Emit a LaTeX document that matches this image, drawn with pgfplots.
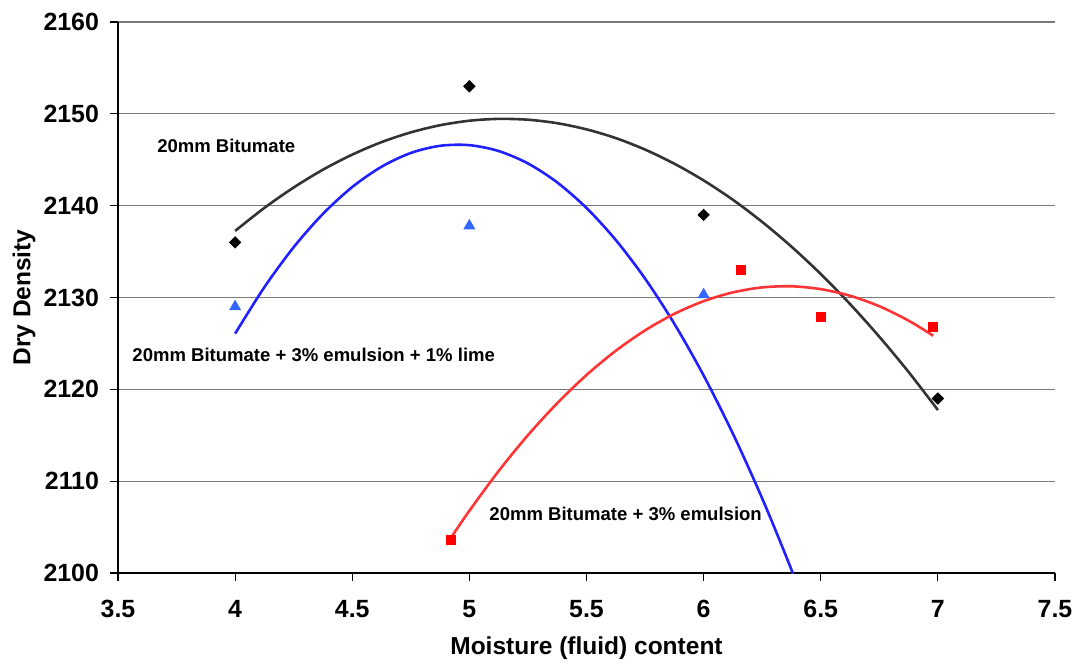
\documentclass[border=0pt]{standalone}
\usepackage{fontspec}
\setmainfont{Liberation Sans}
\usepackage{pgfplots}
\pgfplotsset{compat=1.18}
\definecolor{gridgray}{HTML}{7A7A7A}
\definecolor{fitblack}{HTML}{333333}
\definecolor{fitblue}{HTML}{2020FF}
\definecolor{fitred}{HTML}{FF3535}
\definecolor{triblue}{HTML}{3366FF}
\definecolor{sqred}{HTML}{FF0000}

\begin{document}
\begin{tikzpicture}
\useasboundingbox (-59bp,-47.5bp) rectangle (480bp,286.5bp);
\begin{axis}[
  scale only axis,
  width=468.5bp, height=275.5bp,
  xmin=3.5, xmax=7.5, ymin=2100, ymax=2160,
  xtick={3.5,4,4.5,5,5.5,6,6.5,7,7.5},
  ytick={2100,2110,2120,2130,2140,2150,2160},
  axis x line*=bottom, axis y line*=left,
  axis line style={-, black, line width=0.8pt},
  ymajorgrids,
  grid style={gridgray, line width=0.6pt},
  tick align=outside,
  major tick length=4bp,
  tick style={black, line width=0.6pt},
  /pgf/number format/1000 sep={},
  /pgf/number format/assume math mode=true,
  tick label style={font=\bfseries\fontsize{12.5}{14}\selectfont},
  xticklabel style={yshift=-6bp},
  yticklabel style={xshift=-2bp},
  xlabel={Moisture (fluid) content},
  ylabel={Dry Density},
  every axis x label/.style={at={(axis description cs:0.5,-0.136)}, anchor=center,
    font=\bfseries\fontsize{12.3}{14}\selectfont},
  every axis y label/.style={at={(axis description cs:-0.1003,0.5)}, rotate=90, anchor=center,
    font=\bfseries\fontsize{12.3}{14}\selectfont},
]
% polynomial (order 2) trendlines, sampled along the drawn curves
\addplot[fitblack, line width=1.3pt, smooth] coordinates {
  (4,2137.25) (4.125,2139.76) (4.25,2141.98) (4.375,2143.92) (4.5,2145.56)
  (4.625,2146.92) (4.75,2147.98) (4.875,2148.76) (5,2149.25) (5.125,2149.45)
  (5.25,2149.36) (5.375,2148.98) (5.5,2148.31) (5.625,2147.36) (5.75,2146.11)
  (5.875,2144.57) (6,2142.75) (6.125,2140.64) (6.25,2138.23) (6.375,2135.54)
  (6.5,2132.56) (6.625,2129.29) (6.75,2125.73) (6.875,2121.89) (7,2117.75)
};
\addplot[fitblue, line width=1.3pt, smooth] coordinates {
  (4,2126.07) (4.125,2131.13) (4.25,2135.48) (4.375,2139.11) (4.5,2142.03)
  (4.625,2144.24) (4.75,2145.74) (4.875,2146.52) (5,2146.59) (5.125,2145.95)
  (5.25,2144.60) (5.375,2142.53) (5.5,2139.75) (5.625,2136.26) (5.75,2132.06)
  (5.875,2127.14) (6,2121.51) (6.125,2115.17) (6.25,2108.12) (6.375,2100.35)
  (6.5,2091.87)
};
\addplot[fitred, line width=1.3pt, smooth] coordinates {
  (4.92,2103.79) (5,2106.78) (5.125,2111.11) (5.25,2115.01) (5.375,2118.49)
  (5.5,2121.56) (5.625,2124.20) (5.75,2126.42) (5.875,2128.22) (6,2129.60)
  (6.125,2130.56) (6.25,2131.10) (6.375,2131.22) (6.5,2130.91) (6.625,2130.19)
  (6.75,2129.05) (6.875,2127.48) (6.98,2125.84)
};
% measured points
\addplot[only marks, mark=square*, mark size=2bp, mark options={rotate=45, fill=black, draw=black}] coordinates {
  (4,2136) (5,2153) (6,2139) (7,2119)
};
\addplot[only marks, mark=triangle*, mark size=3.1bp, mark options={fill=triblue, draw=triblue}] coordinates {
  (4,2129) (5,2137.8) (6,2130.3)
};
\addplot[only marks, mark=square*, mark size=2.3bp, mark options={fill=sqred, draw=sqred}] coordinates {
  (4.92,2103.6) (6.16,2133) (6.5,2127.9) (6.98,2126.8)
};
\node[font=\bfseries\fontsize{9.3}{11}\selectfont, anchor=west, inner sep=0pt] at (axis cs:3.666,2146.5) {20mm Bitumate};
\node[font=\bfseries\fontsize{9.3}{11}\selectfont, anchor=west, inner sep=0pt] at (axis cs:3.56,2123.7) {20mm Bitumate + 3\% emulsion + 1\% lime};
\node[font=\bfseries\fontsize{9.3}{11}\selectfont, anchor=west, inner sep=0pt] at (axis cs:5.084,2106.4) {20mm Bitumate + 3\% emulsion};
\end{axis}
\end{tikzpicture}
\end{document}
